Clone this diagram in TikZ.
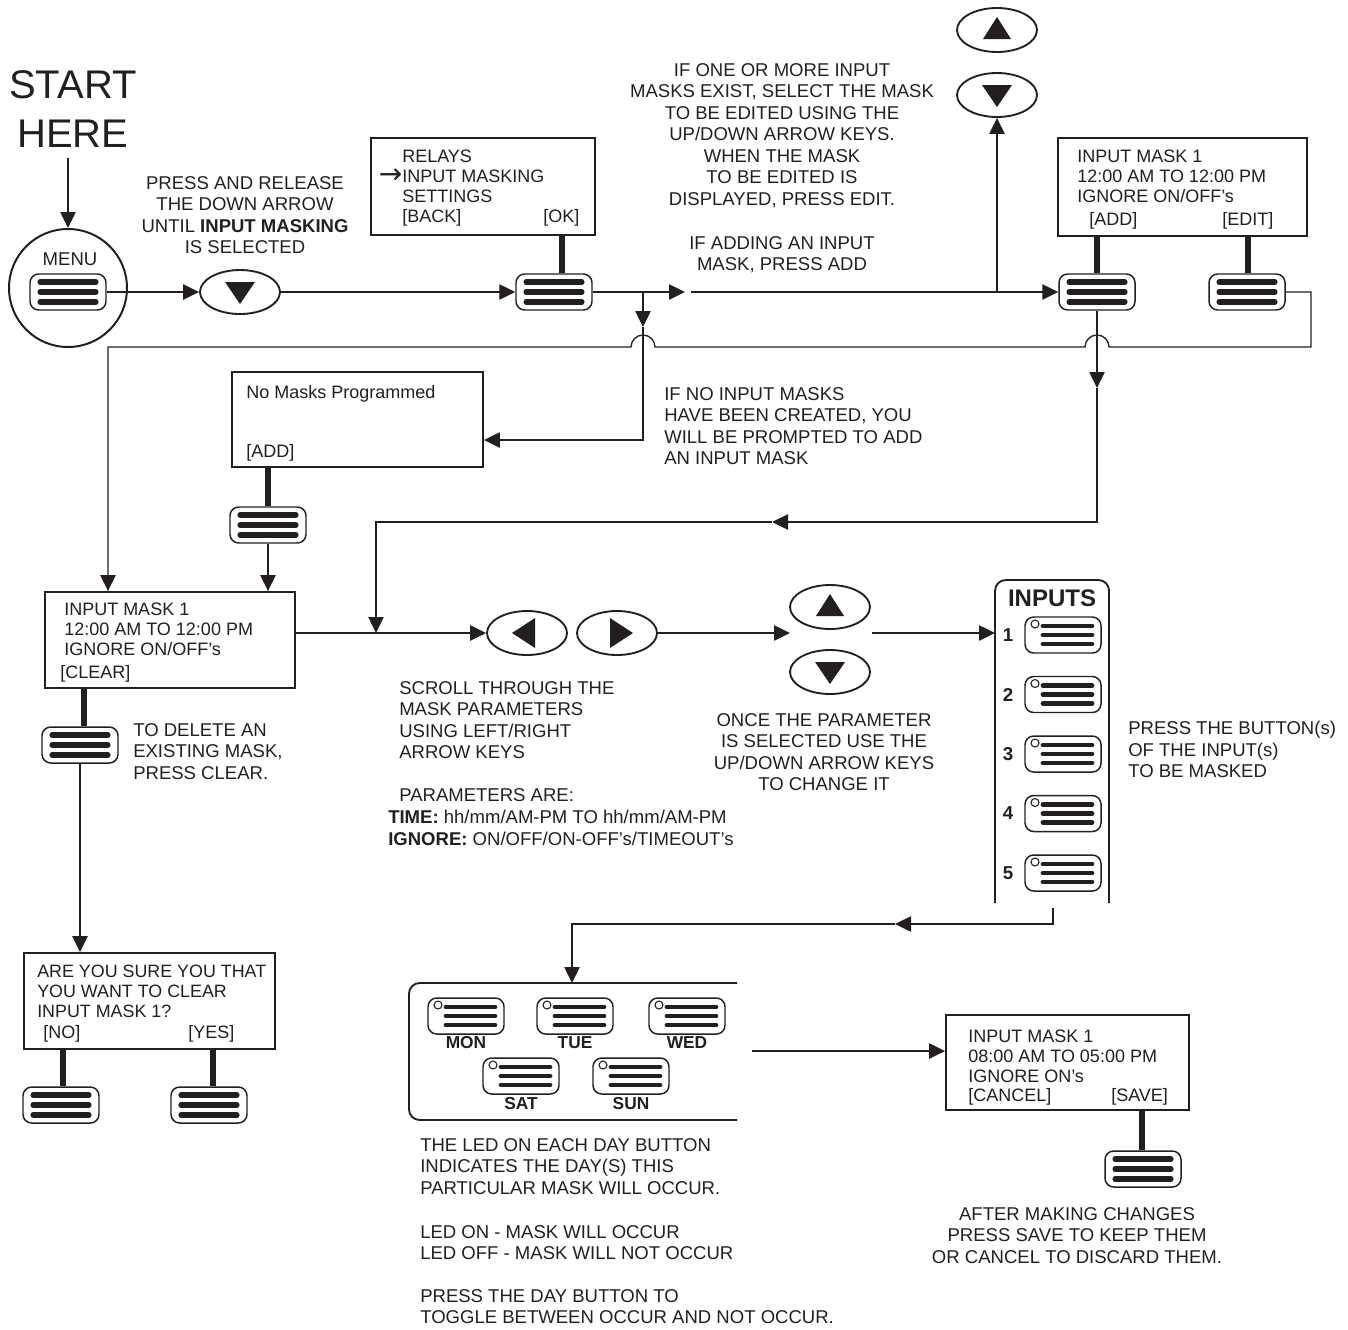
\documentclass[tikz,border=0pt]{standalone}
\usepackage{fontspec}
\setmainfont{Liberation Sans}
\newfontfamily\arrowfont{DejaVu Sans}
\usetikzlibrary{arrows.meta,shapes.geometric}
\definecolor{ink}{RGB}{35,31,32}
\begin{document}
\begin{tikzpicture}[x=0.75pt,y=-0.75pt,
  conn/.style={draw=ink, line width=1pt},
  arr/.style={conn, -{Triangle[length=12pt,width=11.5pt]}},
  stem/.style={draw=ink, line width=3.8pt},
  scr/.style={draw=ink, line width=1.4pt, inner sep=0pt, fill=white},
  panel/.style={draw=ink, line width=1.4pt, rounded corners=8pt},
  txt/.style={font=\fontsize{13.9}{16.1}\selectfont, text=ink, inner sep=0pt, align=left, anchor=north west},
  ctxt/.style={txt, align=center, anchor=north},
  btxt/.style={font=\fontsize{13.5}{14.8}\selectfont, text=ink, inner sep=0pt, align=left, anchor=north west},
  numtxt/.style={font=\fontsize{14}{16}\selectfont\bfseries, text=ink, inner sep=0pt},
  daytxt/.style={font=\fontsize{13}{14}\selectfont\bfseries, text=ink, inner sep=0pt},
  btnbase/.style={draw=ink, line width=1.1pt, rounded corners=6.5pt, fill=white, minimum width=57pt, minimum height=27pt, inner sep=0pt},
  btn/.style={btnbase, path picture={
     \foreach \dy in {-10,0,10}{\draw[ink, line width=3.8pt, line cap=round, sharp corners] ([shift={(-28,\dy)}]path picture bounding box.center) -- ++(56,0);}}},
  ledbtn/.style={btnbase, path picture={
     \foreach \dy in {-9,0,9}{\draw[ink, line width=3.6pt, line cap=round, sharp corners] ([shift={(-20,\dy)}]path picture bounding box.center) -- ++(49,0);}
     \draw[ink, line width=0.8pt] ([shift={(-28,-11)}]path picture bounding box.center) circle[radius=4];}},
  ell/.style={draw=ink, ellipse, line width=1.4pt, minimum width=60pt, minimum height=33pt, inner sep=0pt, fill=white},
  dnell/.style={ell, path picture={\fill[ink] ([shift={(-15,-10)}]path picture bounding box.center) -- ++(30,0) -- ++(-15,22) -- cycle;}},
  upell/.style={ell, path picture={\fill[ink] ([shift={(-14,9)}]path picture bounding box.center) -- ++(28,0) -- ++(-14,-22) -- cycle;}},
  ltell/.style={ell, path picture={\fill[ink] ([shift={(-15,0)}]path picture bounding box.center) -- ++(23,-15) -- ++(0,30) -- cycle;}},
  rtell/.style={ell, path picture={\fill[ink] ([shift={(16,0)}]path picture bounding box.center) -- ++(-23,-15) -- ++(0,30) -- cycle;}}
]
\useasboundingbox (0,0) rectangle (1348,1329);

% ---------- START / MENU ----------
\node[font=\fontsize{30}{36.8}\selectfont, text=ink, inner sep=0pt, align=center, anchor=north] (start) at (73,70) {START\\HERE};
\coordinate (s0) at (68,158);
\node[circle, draw=ink, line width=1.5pt, minimum size=88.5pt, inner sep=0pt] (menu) at (68,288) {};
\node[txt, anchor=center] (menulbl) at (70,259) {MENU};
\node[btn] (menubtn) at (68,292) {};
\node[dnell] (dnbtn) at (240,292) {};
\node[ctxt] (presstxt) at (245,176) {PRESS AND RELEASE\\THE DOWN ARROW\\UNTIL \textbf{INPUT MASKING}\\IS SELECTED};

% ---------- RELAYS ----------
\node[scr, minimum width=168pt, minimum height=72.75pt] (relay) at (483,186.5) {};
\node[btxt] (relaytxt) at (402,150) {RELAYS\\\llap{\arrowfont\fontsize{21}{15}\selectfont\raisebox{-0.5pt}{→}}INPUT MASKING\\SETTINGS\\{[BACK]}};
\node[btxt] (relayok) at (543,209) {[OK]};
\node[btn] (relaybtn) at (554,292) {};
\draw[stem] (relaybtn.north) ++(8,0) -- ++(0,-38);

% ---------- top right ----------
\node[upell] (topup) at (997,30) {};
\node[dnell] (topdn) at (997,95) {};
\node[ctxt] (selecttxt) at (782,63) {IF ONE OR MORE INPUT\\MASKS EXIST, SELECT THE MASK\\TO BE EDITED USING THE\\UP/DOWN ARROW KEYS.\\WHEN THE MASK\\TO BE EDITED IS\\DISPLAYED, PRESS EDIT.};
\node[ctxt] (addtxt) at (782,236) {IF ADDING AN INPUT\\MASK, PRESS ADD};
\node[scr, minimum width=186.75pt, minimum height=73.5pt] (im2) at (1182.5,187) {};
\node[btxt] (im2txt) at (1077,150) {INPUT MASK 1\\12:00 AM TO 12:00 PM\\IGNORE ON/OFF's};
\node[btxt] (im2add) at (1089,212) {[ADD]};
\node[btxt] (im2edit) at (1222,212) {[EDIT]};
\node[btn] (addbtn) at (1097,292) {};
\node[btn] (editbtn) at (1247,292) {};
\draw[stem] (addbtn.north) -- ++(0,-37);
\draw[stem] (editbtn.north) ++(1,0) -- ++(0,-37);

% ---------- No masks ----------
\node[scr, minimum width=188.25pt, minimum height=71.25pt] (nomask) at (357.5,419.5) {};
\node[btxt] (nomasktxt) at (246,385) {No Masks Programmed};
\node[btxt] (nomaskadd) at (246,444) {[ADD]};
\node[btn] (nmbtn) at (268,525) {};
\draw[stem] (nmbtn.north) -- ++(0,-40);
\node[txt] (notxt) at (664,387) {IF NO INPUT MASKS\\HAVE BEEN CREATED, YOU\\WILL BE PROMPTED TO ADD\\AN INPUT MASK};

% ---------- middle row ----------
\node[scr, minimum width=187.5pt, minimum height=72pt] (im1) at (170,640) {};
\node[btxt] (im1txt) at (64,603) {INPUT MASK 1\\12:00 AM TO 12:00 PM\\IGNORE ON/OFF's};
\node[btxt] (im1clr) at (60,665) {[CLEAR]};
\node[btn] (clrbtn) at (80,745) {};
\draw[stem] (clrbtn.north) ++(4,0) -- ++(0,-39);
\node[txt] (deltxt) at (133,723) {TO DELETE AN\\EXISTING MASK,\\PRESS CLEAR.};

\node[ltell] (lbtn) at (527,633) {};
\node[rtell] (rbtn) at (617,633) {};
\node[upell] (midup) at (830,607) {};
\node[dnell] (middn) at (830,672) {};
\node[txt] (scrolltxt) at (399,681) {SCROLL THROUGH THE\\MASK PARAMETERS\\USING LEFT/RIGHT\\ARROW KEYS};
\node[txt] (paramtxt) at (399,788) {PARAMETERS ARE:};
\node[txt] (timetxt) at (388,810) {\textbf{TIME:} hh/mm/AM-PM TO hh/mm/AM-PM\\\textbf{IGNORE:} ON/OFF/ON-OFF's/TIMEOUT's};
\node[ctxt] (oncetxt) at (824,713) {ONCE THE PARAMETER\\IS SELECTED USE THE\\UP/DOWN ARROW KEYS\\TO CHANGE IT};

% ---------- INPUTS panel ----------
\draw[panel] (995,903) -- (995,580) -- (1109,580) -- (1109,903);
\node[font=\fontsize{18}{20}\selectfont\bfseries, text=ink, inner sep=0pt] (inputslbl) at (1052,598) {INPUTS};
\foreach \i/\yy in {1/635,2/694.5,3/754,4/813.5,5/873}{
  \node[numtxt] (n\i) at (1008,\yy) {\i};
  \node[ledbtn] (in\i) at (1063,\yy) {};
}
\node[txt] (buttontxt) at (1128,721) {PRESS THE BUTTON(s)\\OF THE INPUT(s)\\TO BE MASKED};

% ---------- clear confirm ----------
\node[scr, minimum width=188.25pt, minimum height=72pt] (sure) at (149.5,1001) {};
\node[btxt, font=\fontsize{13.4}{15}\selectfont] (suretxt) at (37,965) {ARE YOU SURE YOU THAT\\YOU WANT TO CLEAR\\INPUT MASK 1?};
\node[btxt] (sureno) at (43,1025) {[NO]};
\node[btxt] (sureyes) at (188,1025) {[YES]};
\node[btn] (nobtn) at (61,1105) {};
\node[btn] (yesbtn) at (209,1105) {};
\draw[stem] (nobtn.north) ++(2,0) -- ++(0,-38);
\draw[stem] (yesbtn.north) ++(4,0) -- ++(0,-38);

% ---------- days panel ----------
\draw[panel] (737,983) -- (409,983) -- (409,1120) -- (737,1120);
\node[ledbtn] (mon) at (466,1016) {};
\node[ledbtn] (tue) at (575,1016) {};
\node[ledbtn] (wed) at (687,1016) {};
\node[ledbtn] (sat) at (521,1076) {};
\node[ledbtn] (sun) at (631,1076) {};
\node[daytxt] (monl) at (466,1043) {MON};
\node[daytxt] (tuel) at (575,1043) {TUE};
\node[daytxt] (wedl) at (687,1043) {WED};
\node[daytxt] (satl) at (521,1104) {SAT};
\node[daytxt] (sunl) at (631,1104) {SUN};
\node[txt] (ledtxt) at (420,1138) {THE LED ON EACH DAY BUTTON\\INDICATES THE DAY(S) THIS\\PARTICULAR MASK WILL OCCUR.};
\node[txt] (onofftxt) at (420,1225) {LED ON - MASK WILL OCCUR\\LED OFF - MASK WILL NOT OCCUR};
\node[txt] (toggletxt) at (420,1289) {PRESS THE DAY BUTTON TO\\TOGGLE BETWEEN OCCUR AND NOT OCCUR.};

% ---------- save ----------
\node[scr, minimum width=182.25pt, minimum height=71.25pt] (im3) at (1067.5,1062.5) {};
\node[btxt] (im3txt) at (968,1030) {INPUT MASK 1\\08:00 AM TO 05:00 PM\\IGNORE ON's};
\node[btxt] (im3cancel) at (968,1088) {[CANCEL]};
\node[btxt] (im3save) at (1111,1088) {[SAVE]};
\node[btn] (savebtn) at (1143,1169) {};
\draw[stem] (savebtn.north) ++(-1,0) -- ++(0,-41);
\node[ctxt] (aftertxt) at (1077,1207) {AFTER MAKING CHANGES\\PRESS SAVE TO KEEP THEM\\OR CANCEL TO DISCARD THEM.};

% ---------- coordinates ----------
\coordinate (a1) at (685,292);
\coordinate (a1b) at (691,292);
\coordinate (j1) at (643,292);
\coordinate (j2) at (997,292);
\coordinate (m1) at (643,327);
\coordinate (k1) at (643,440);
\coordinate (e1) at (1311,292);
\coordinate (e2) at (1311,347);
\coordinate (c1) at (108,347);
\coordinate (d1) at (1097,388);
\coordinate (d2) at (1097,522);
\coordinate (d3) at (772,522);
\coordinate (d4) at (376,522);
\coordinate (d5) at (376,633);
\coordinate (p1) at (790,633);
\coordinate (p2) at (872,633);
\coordinate (p3) at (995,633);
\coordinate (q1) at (1053,908);
\coordinate (q2) at (1053,924);
\coordinate (q3) at (895,924);
\coordinate (q4) at (572,924);
\coordinate (q5) at (572,983);
\coordinate (r1) at (752,1051);

% ---------- connectors ----------
\draw[arr] (s0) -- (menu.north);
\draw[arr] (menubtn.east) -- (dnbtn.west);
\draw[arr] (dnbtn.east) -- (relaybtn.west);
\draw[arr] (relaybtn.east) -- (a1);
\draw[arr] (a1b) -- (addbtn.west);
\draw[arr] (j2) -- (topdn.south);
\draw[arr] (j1) -- (m1);
\draw[arr] (m1) -- (k1) -- (nomask.east |- k1);
\draw[arr] (editbtn.east) -- (e1) -- (e2) -- (1109,347)
   .. controls (1109,340.4) and (1103.6,335) .. (1097,335)
   .. controls (1090.4,335) and (1085,340.4) .. (1085,347)
   -- (655,347)
   .. controls (655,340.4) and (649.6,335) .. (643,335)
   .. controls (636.4,335) and (631,340.4) .. (631,347)
   -- (c1) -- (c1 |- im1.north);
\draw[arr] (addbtn.south) -- (d1);
\draw[arr] (d1) -- (d2) -- (d3);
\draw[arr] (d3) -- (d4) -- (d5);
\draw[arr] (nmbtn.south) -- (nmbtn.south |- im1.north);
\draw[arr] (im1.east |- lbtn.west) -- (lbtn.west);
\draw[arr] (rbtn.east) -- (p1);
\draw[arr] (p2) -- (p3);
\draw[arr] (clrbtn.south) -- (clrbtn.south |- sure.north);
\draw[arr] (q1) -- (q2) -- (q3);
\draw[arr] (q3) -- (q4) -- (q5);
\draw[arr] (r1) -- (im3.west |- r1);
\end{tikzpicture}
\end{document}
